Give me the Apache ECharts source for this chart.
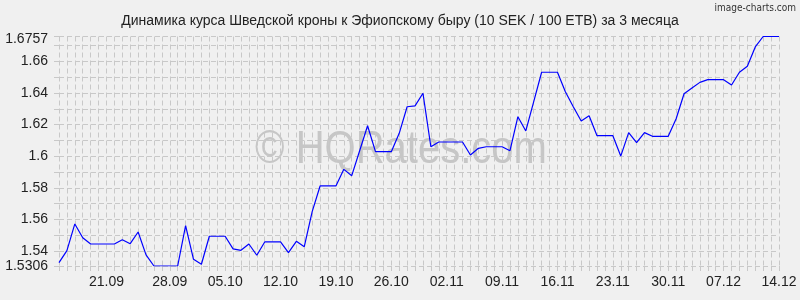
<!DOCTYPE html>
<html>
<head>
<meta charset="utf-8">
<script src="https://cdn.jsdelivr.net/npm/echarts@6/dist/echarts.min.js"></script>
<style>
html,body{margin:0;padding:0;background:#f0f0f0;}
#chart{width:800px;height:300px;}
</style>
</head>
<body>
<div id="chart"></div>
<script>
const categories = [
  "15.09","16.09","17.09","18.09","19.09","20.09","21.09","22.09","23.09","24.09",
  "25.09","26.09","27.09","27.09","28.09","29.09","30.09","01.10","02.10","03.10",
  "04.10","05.10","06.10","07.10","08.10","09.10","10.10","11.10","12.10","13.10",
  "14.10","15.10","16.10","17.10","18.10","19.10","20.10","21.10","22.10","23.10",
  "24.10","25.10","26.10","27.10","28.10","29.10","30.10","31.10","01.11","02.11",
  "03.11","04.11","05.11","06.11","07.11","08.11","09.11","10.11","11.11","12.11",
  "13.11","14.11","15.11","16.11","17.11","18.11","19.11","20.11","21.11","22.11",
  "23.11","24.11","25.11","26.11","27.11","28.11","29.11","30.11","01.12","02.12",
  "03.12","04.12","05.12","06.12","07.12","08.12","09.12","10.12","11.12","12.12",
  "13.12","14.12"
];
const rates = [
  1.5327,1.5403,1.5572,1.5485,1.5445,1.5445,1.5445,1.5445,1.5472,1.5447,
  1.5521,1.5376,1.5306,1.5306,1.5306,1.5306,1.5561,1.5348,1.5317,1.5494,
  1.5494,1.5494,1.5414,1.5405,1.5445,1.5374,1.5458,1.5458,1.5458,1.5390,
  1.5462,1.5428,1.5650,1.5812,1.5812,1.5812,1.5917,1.5877,1.6035,1.6193,
  1.6029,1.6029,1.6029,1.6145,1.6313,1.6318,1.6398,1.6060,1.6090,1.6090,
  1.6090,1.6090,1.6008,1.6050,1.6060,1.6060,1.6060,1.6035,1.6250,1.6160,
  1.6345,1.6531,1.6531,1.6531,1.6408,1.6313,1.6223,1.6256,1.6130,1.6130,
  1.6130,1.6001,1.6149,1.6086,1.6149,1.6126,1.6126,1.6126,1.6237,1.6395,
  1.6431,1.6467,1.6484,1.6484,1.6484,1.6450,1.6531,1.6569,1.6691,1.6757,
  1.6757,1.6757
];
const xTickLabels = ["21.09","28.09","05.10","12.10","19.10","26.10","02.11","09.11","16.11","23.11","30.11","07.12","14.12"];
const yMin = 1.5306;
const yMax = 1.6757;
const yLabelValues = [1.5306,1.54,1.56,1.58,1.6,1.62,1.64,1.66,1.6757];
const yGridValues = [1.5306,1.54,1.55,1.56,1.57,1.58,1.59,1.6,1.61,1.62,1.63,1.64,1.65,1.66,1.67,1.6757];

const chart = echarts.init(document.getElementById('chart'), null, {renderer:'canvas'});
const FONT = 'Liberation Sans, Arial, sans-serif';
const gridColor = '#c8c8c8';
const labelFont = {fontFamily: FONT, fontSize: 14, color: '#222', lineHeight: 14};
chart.setOption({
  backgroundColor: '#f0f0f0',
  animation: false,
  title: {
    text: 'Динамика курса Шведской кроны к Эфиопскому быру (10 SEK / 100 ETB) за 3 месяца',
    left: 'center', top: 9,
    textStyle: {fontFamily: FONT, fontSize: 14, fontWeight: 'normal', color: '#222'}
  },
  graphic: [
    {type:'text', right: 4, top: 3, z: 10,
     style:{text:'image-charts.com', fontFamily:'DejaVu Sans Condensed, DejaVu Sans', fontSize:10, fill:'#333'}},
    {type:'text', x: 401, y: 150, z: 0, scaleX: 0.87, silent: true,
     style:{text:'© HQRates.com', fontFamily: FONT, fontSize: 46, fill:'#c6c6c6', textAlign:'center', textVerticalAlign:'middle'}}
  ],
  grid: {left: 59, right: 21, top: 36.5, bottom: 34, containLabel: false},
  xAxis: {
    type: 'category',
    data: categories,
    boundaryGap: false,
    axisLine: {show: false},
    axisTick: {show: true, interval: 0, length: 8, lineStyle: {color: gridColor, type: [5,3]}},
    axisLabel: {
      interval: (i, v) => xTickLabels.indexOf(v) >= 0,
      fontFamily: FONT, fontSize: 14, color: '#222', margin: 9
    },
    splitLine: {show: true, interval: 0, lineStyle: {color: gridColor, type: [5,3], width: 1}}
  },
  yAxis: {
    type: 'value',
    min: yMin, max: yMax,
    axisLine: {show: false},
    axisTick: {show: true, length: 8, customValues: yGridValues, lineStyle: {color: gridColor, type: [5,3]}},
    axisLabel: {
      customValues: yLabelValues,
      fontFamily: FONT, fontSize: 14, color: '#222', margin: 11,
      formatter: v => v === yMax ? '{hi|' + v + '}' : String(v),
      rich: {
        hi: Object.assign({padding: [5, 0, 0, 0]}, labelFont)
      }
    },
    splitLine: {show: true, lineStyle: {color: gridColor, type: [5,3], width: 1}}
  },
  series: [{
    type: 'line',
    data: rates,
    symbol: 'none',
    smooth: false,
    z: 5,
    lineStyle: {color: '#0000ff', width: 1.2}
  }]
});
</script>
</body>
</html>
